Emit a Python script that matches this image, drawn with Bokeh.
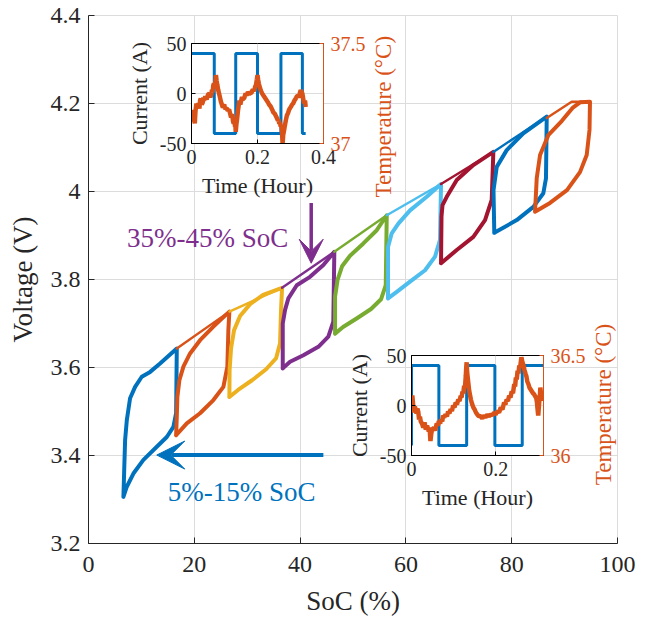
import math
from bokeh.plotting import figure
from bokeh.models import (Range1d, FixedTicker, NumeralTickFormatter, LinearAxis,
                          Arrow, VeeHead, Column, Label)
from bokeh.core.properties import value
from bokeh.embed import file_html
from bokeh.resources import INLINE

FONT = "Liberation Serif"
C_BLUE = "#0072BD"; C_ORANGE = "#D95319"; C_YELLOW = "#EDB120"; C_PURPLE = "#7E2F8E"
C_GREEN = "#77AC30"; C_CYAN = "#4DBEEE"; C_RED = "#A2142F"
AX = "#262626"; GRID = "#dcdcdc"

# ---------------- main data: SoC (%) / Voltage (V) loops ----------------
x_ticks = [0, 20, 40, 60, 80, 100]
y_ticks = [3.2, 3.4, 3.6, 3.8, 4.0, 4.2, 4.4]

loop1_soc = [6.60, 6.73, 6.92, 7.24, 7.86, 8.81, 10.07, 11.65, 13.53, 16.69, 16.56, 16.05, 14.80, 12.91, 10.38, 8.49, 7.24, 6.60]
loop1_v = [3.306, 3.359, 3.435, 3.480, 3.530, 3.556, 3.579, 3.590, 3.609, 3.643, 3.496, 3.465, 3.442, 3.420, 3.390, 3.359, 3.329, 3.306]

loop2_soc = [16.56, 16.69, 16.80, 17.18, 17.94, 19.20, 21.09, 23.61, 26.63, 26.44, 26.25, 25.50, 23.61, 21.09, 18.58, 16.56]
loop2_v = [3.446, 3.488, 3.533, 3.571, 3.602, 3.632, 3.662, 3.693, 3.727, 3.685, 3.602, 3.556, 3.526, 3.496, 3.473, 3.446]
link2_soc = [16.69, 26.63]
link2_v = [3.643, 3.727]

loop3_soc = [26.63, 26.67, 26.95, 27.52, 28.65, 30.54, 33.00, 36.59, 36.40, 36.21, 35.46, 33.57, 30.92, 28.27, 26.63]
loop3_v = [3.533, 3.594, 3.644, 3.685, 3.717, 3.744, 3.765, 3.781, 3.731, 3.655, 3.621, 3.596, 3.571, 3.549, 3.533]
link3_soc = [26.63, 36.59]
link3_v = [3.727, 3.781]

loop4_soc = [36.72, 36.72, 37.16, 37.78, 39.37, 41.88, 44.40, 46.47, 46.28, 45.34, 43.45, 40.62, 38.10, 36.72]
loop4_v = [3.598, 3.700, 3.731, 3.757, 3.787, 3.806, 3.833, 3.863, 3.704, 3.670, 3.647, 3.628, 3.613, 3.598]
link4_soc = [36.59, 46.47]
link4_v = [3.781, 3.863]

loop5_soc = [46.61, 46.61, 47.08, 47.93, 49.44, 51.96, 54.49, 56.38, 56.19, 55.30, 53.41, 50.76, 48.12, 46.61]
loop5_v = [3.677, 3.761, 3.799, 3.830, 3.854, 3.882, 3.912, 3.946, 3.787, 3.755, 3.733, 3.712, 3.692, 3.677]
link5_soc = [46.47, 56.38]
link5_v = [3.863, 3.946]

loop6_soc = [56.62, 56.62, 57.32, 58.57, 60.78, 63.94, 66.64, 66.45, 65.51, 63.62, 60.78, 58.27, 56.62]
loop6_v = [3.757, 3.874, 3.905, 3.927, 3.957, 3.988, 4.017, 3.890, 3.852, 3.821, 3.795, 3.772, 3.757]
link6_soc = [56.38, 66.64]
link6_v = [3.946, 4.017]

loop7_soc = [66.64, 66.73, 66.92, 67.72, 69.61, 72.75, 76.53, 76.22, 74.96, 72.75, 69.61, 66.64]
loop7_v = [3.837, 3.943, 3.969, 3.988, 4.026, 4.060, 4.090, 3.981, 3.935, 3.897, 3.867, 3.837]
link7_soc = [66.64, 76.53]
link7_v = [4.017, 4.090]

loop8_soc = [76.71, 76.56, 77.17, 79.06, 82.20, 86.62, 86.48, 85.98, 84.09, 80.95, 76.71]
loop8_v = [3.906, 4.003, 4.056, 4.094, 4.132, 4.170, 4.030, 3.996, 3.965, 3.935, 3.906]
link8_soc = [76.53, 86.62]
link8_v = [4.090, 4.170]

loop9_soc = [84.41, 84.73, 85.36, 86.92, 89.45, 91.50, 93.00, 94.80, 94.71, 94.18, 92.91, 90.45, 87.24, 84.41]
loop9_v = [3.954, 4.030, 4.083, 4.128, 4.160, 4.190, 4.203, 4.204, 4.140, 4.083, 4.044, 4.003, 3.974, 3.954]
link9_soc = [86.62, 91.34, 94.80]
link9_v = [4.167, 4.204, 4.204]

# ---------------- inset 1 (35%-45% SoC test) ----------------
in1_t_ticks = [0, 0.2, 0.4]
in1_switch_t = [0, 0.069, 0.134, 0.200, 0.271, 0.336, 0.346]
in1_current = [40, -40, 40, -40, 40, -40, -40]
in1_temp_t = [0.000, 0.002, 0.004, 0.006, 0.008, 0.010, 0.012, 0.015, 0.018, 0.021, 0.024, 0.026, 0.028, 0.031,
              0.034, 0.036, 0.038, 0.042, 0.046, 0.050, 0.054, 0.057, 0.060, 0.062, 0.064, 0.066, 0.068, 0.070,
              0.072, 0.073, 0.074, 0.076, 0.078, 0.081, 0.085, 0.089, 0.092, 0.095, 0.099, 0.102, 0.106, 0.110,
              0.114, 0.117, 0.120, 0.122, 0.124, 0.126, 0.128, 0.130, 0.132, 0.133, 0.134, 0.136, 0.138, 0.141,
              0.145, 0.148, 0.150, 0.153, 0.155, 0.160, 0.164, 0.167, 0.171, 0.175, 0.182, 0.186, 0.190, 0.193,
              0.195, 0.198, 0.200, 0.202, 0.204, 0.208, 0.211, 0.214, 0.220, 0.224, 0.228, 0.232, 0.235, 0.240,
              0.245, 0.248, 0.252, 0.255, 0.258, 0.262, 0.264, 0.266, 0.268, 0.270, 0.272, 0.274, 0.276, 0.278,
              0.280, 0.283, 0.286, 0.289, 0.292, 0.296, 0.301, 0.305, 0.308, 0.312, 0.316, 0.319, 0.322, 0.325,
              0.328, 0.331, 0.334, 0.336, 0.339, 0.341, 0.344, 0.346]
in1_temp = [37.150, 37.110, 37.150, 37.167, 37.120, 37.100, 37.160, 37.200, 37.185, 37.200, 37.175, 37.215, 37.225, 37.195,
            37.205, 37.230, 37.215, 37.235, 37.220, 37.245, 37.250, 37.232, 37.245, 37.268, 37.255, 37.290, 37.300, 37.275,
            37.300, 37.320, 37.342, 37.315, 37.295, 37.267, 37.240, 37.210, 37.195, 37.180, 37.195, 37.172, 37.178, 37.165,
            37.170, 37.150, 37.130, 37.145, 37.135, 37.110, 37.100, 37.120, 37.083, 37.100, 37.058, 37.095, 37.120, 37.167,
            37.215, 37.195, 37.210, 37.232, 37.220, 37.228, 37.250, 37.240, 37.258, 37.248, 37.255, 37.270, 37.262, 37.285,
            37.290, 37.320, 37.342, 37.318, 37.300, 37.275, 37.262, 37.250, 37.235, 37.225, 37.215, 37.205, 37.195, 37.185,
            37.168, 37.155, 37.150, 37.140, 37.130, 37.115, 37.120, 37.098, 37.105, 37.085, 37.090, 37.067, 37.000, 37.045,
            37.060, 37.090, 37.117, 37.140, 37.150, 37.170, 37.183, 37.195, 37.200, 37.215, 37.225, 37.235, 37.240, 37.230,
            37.250, 37.267, 37.255, 37.250, 37.220, 37.200, 37.215, 37.183]

# ---------------- inset 2 (5%-15% SoC test) ----------------
in2_t_ticks = [0, 0.2]
in2_switch_t = [0, 0, 0.065, 0.131, 0.198, 0.263, 0.3135]
in2_current = [-40, 40, -40, 40, -40, 40, 40]
in2_temp_t = [0.000, 0.002, 0.004, 0.006, 0.008, 0.010, 0.012, 0.014, 0.016, 0.018, 0.020, 0.022, 0.025, 0.028,
              0.031, 0.034, 0.037, 0.041, 0.043, 0.045, 0.047, 0.049, 0.053, 0.056, 0.060, 0.063, 0.065, 0.068,
              0.070, 0.073, 0.075, 0.078, 0.081, 0.084, 0.087, 0.090, 0.093, 0.096, 0.099, 0.102, 0.105, 0.108,
              0.111, 0.114, 0.117, 0.119, 0.121, 0.123, 0.125, 0.127, 0.129, 0.130, 0.131, 0.132, 0.134, 0.137,
              0.141, 0.144, 0.147, 0.150, 0.153, 0.156, 0.160, 0.164, 0.168, 0.172, 0.176, 0.180, 0.184, 0.188,
              0.192, 0.196, 0.200, 0.204, 0.208, 0.212, 0.216, 0.220, 0.223, 0.226, 0.229, 0.232, 0.235, 0.238,
              0.241, 0.244, 0.246, 0.248, 0.250, 0.252, 0.254, 0.256, 0.258, 0.260, 0.261, 0.263, 0.266, 0.268,
              0.271, 0.273, 0.275, 0.278, 0.280, 0.283, 0.286, 0.289, 0.291, 0.294, 0.296, 0.298, 0.299, 0.301,
              0.303, 0.305, 0.306, 0.308, 0.309, 0.311, 0.312]
in2_temp = [36.240, 36.300, 36.250, 36.215, 36.245, 36.230, 36.210, 36.235, 36.220, 36.180, 36.195, 36.170, 36.160, 36.140,
            36.165, 36.130, 36.150, 36.120, 36.140, 36.072, 36.110, 36.130, 36.139, 36.125, 36.160, 36.150, 36.173, 36.160,
            36.181, 36.170, 36.200, 36.190, 36.206, 36.195, 36.220, 36.210, 36.232, 36.222, 36.250, 36.240, 36.265, 36.255,
            36.280, 36.272, 36.299, 36.290, 36.320, 36.310, 36.349, 36.340, 36.400, 36.440, 36.466, 36.420, 36.380, 36.324,
            36.280, 36.257, 36.240, 36.230, 36.215, 36.206, 36.195, 36.198, 36.185, 36.200, 36.190, 36.205, 36.195, 36.206,
            36.200, 36.215, 36.205, 36.223, 36.215, 36.240, 36.230, 36.265, 36.255, 36.280, 36.272, 36.299, 36.290, 36.320,
            36.312, 36.357, 36.345, 36.390, 36.380, 36.424, 36.410, 36.450, 36.440, 36.475, 36.491, 36.470, 36.450, 36.430,
            36.408, 36.395, 36.370, 36.355, 36.340, 36.330, 36.320, 36.310, 36.307, 36.295, 36.290, 36.265, 36.240, 36.200,
            36.260, 36.300, 36.340, 36.300, 36.280, 36.290, 36.273]

# ================= main figure =================
# (plots stacked in one Column share their left/right borders, so all use 88 / 80)
p = figure(frame_width=529, frame_height=528, x_range=Range1d(0, 100), y_range=Range1d(3.2, 4.4),
           output_backend="svg", toolbar_location=None,
           min_border_left=88, min_border_right=80, min_border_top=15, min_border_bottom=66,
           background_fill_color="white", border_fill_color="white")
p.outline_line_color = GRID
p.xaxis.ticker = FixedTicker(ticks=x_ticks)
p.yaxis.ticker = FixedTicker(ticks=y_ticks)
p.xaxis.formatter = NumeralTickFormatter(format="0")
p.yaxis.formatter = NumeralTickFormatter(format="0.[0]")
p.xaxis.axis_label = "SoC (%)"
p.yaxis.axis_label = "Voltage (V)"
for ax in (p.xaxis, p.yaxis):
    ax.axis_line_color = AX
    ax.major_tick_line_color = AX
    ax.minor_tick_line_color = None
    ax.major_tick_in = 6
    ax.major_tick_out = 0
    ax.major_label_text_font = FONT
    ax.major_label_text_font_size = "24px"
    ax.major_label_text_color = AX
    ax.axis_label_text_font = FONT
    ax.axis_label_text_font_size = "27px"
    ax.axis_label_text_font_style = "normal"
    ax.axis_label_text_color = AX
p.xaxis.major_label_standoff = 13
p.yaxis.major_label_standoff = 8
p.xaxis.axis_label_standoff = 11
p.yaxis.axis_label_standoff = 10
p.grid.grid_line_color = GRID
p.grid.grid_line_width = 1

loops = [(loop1_soc, loop1_v, C_BLUE), (loop2_soc, loop2_v, C_ORANGE), (loop3_soc, loop3_v, C_YELLOW),
         (loop4_soc, loop4_v, C_PURPLE), (loop5_soc, loop5_v, C_GREEN), (loop6_soc, loop6_v, C_CYAN),
         (loop7_soc, loop7_v, C_RED), (loop8_soc, loop8_v, C_BLUE), (loop9_soc, loop9_v, C_ORANGE)]
links = [(link2_soc, link2_v, C_ORANGE), (link3_soc, link3_v, C_YELLOW), (link4_soc, link4_v, C_PURPLE),
         (link5_soc, link5_v, C_GREEN), (link6_soc, link6_v, C_CYAN), (link7_soc, link7_v, C_RED),
         (link8_soc, link8_v, C_BLUE), (link9_soc, link9_v, C_ORANGE)]
for (xs, ys, c), (lx, ly, lc) in zip(loops, [(None, None, None)] + links):
    p.line(xs, ys, line_color=c, line_width=4, line_join="round", line_cap="round")
    if lx is not None:
        p.line(lx, ly, line_color=lc, line_width=2.4, line_cap="round")

p.text(x=[7.3], y=[3.894], text=["35%-45% SoC"], text_font=value(FONT), text_font_size="27px",
       text_color=C_PURPLE, text_align="left", text_baseline="middle")
p.text(x=[15.0], y=[3.316], text=["5%-15% SoC"], text_font=value(FONT), text_font_size="27px",
       text_color=C_BLUE, text_align="left", text_baseline="middle")
p.add_layout(Arrow(end=VeeHead(size=24, fill_color=C_PURPLE, line_color=C_PURPLE),
                   x_start=42.1, y_start=3.974, x_end=42.1, y_end=3.837,
                   line_color=C_PURPLE, line_width=3.5))
p.add_layout(Arrow(end=VeeHead(size=28, fill_color=C_BLUE, line_color=C_BLUE),
                   x_start=44.4, y_start=3.401, x_end=12.9, y_end=3.401,
                   line_color=C_BLUE, line_width=4))

# right-hand (temperature) axis titles of the two insets, reading upward;
# placed on the main canvas, beside each inset's right axis
for lx, ly in ((55.7, 4.170), (97.3, 3.516)):
    p.add_layout(Label(x=lx, y=ly, text="Temperature (°C)", angle=math.pi / 2,
                       text_align="center", text_baseline="middle",
                       text_font=FONT, text_font_size="23px", text_color=C_ORANGE))

IN_LEFT, IN_FRAME_W, IN_RIGHT = 88, 132, 80
IN_TOP, IN_FRAME_H, IN_BOTTOM = 36, 100, 60


def make_inset(t_end, t_ticks, temp_lo, temp_hi, left_px, top_px):
    f = figure(frame_width=IN_FRAME_W, frame_height=IN_FRAME_H, x_range=Range1d(0, t_end), y_range=Range1d(-50, 50),
               output_backend="svg", toolbar_location=None,
               min_border_left=IN_LEFT, min_border_right=IN_RIGHT, min_border_top=IN_TOP, min_border_bottom=IN_BOTTOM,
               background_fill_color="white", border_fill_alpha=0,
               styles={"position": "absolute", "left": f"{left_px}px", "top": f"{top_px}px"})
    f.outline_line_color = "black"
    f.extra_y_ranges = {"temp": Range1d(temp_lo, temp_hi)}
    f.xaxis.ticker = FixedTicker(ticks=t_ticks)
    f.yaxis.ticker = FixedTicker(ticks=[-50, 0, 50])
    f.xaxis.formatter = NumeralTickFormatter(format="0.[0]")
    f.yaxis.formatter = NumeralTickFormatter(format="0")
    f.xaxis.axis_label = "Time (Hour)"
    f.yaxis.axis_label = "Current (A)"
    right = LinearAxis(y_range_name="temp", ticker=FixedTicker(ticks=[temp_lo, temp_hi]),
                       formatter=NumeralTickFormatter(format="0.[0]"))
    f.add_layout(right, "right")
    for ax, col in ((f.xaxis[0], "black"), (f.yaxis[0], "black"), (right, C_ORANGE)):
        ax.axis_line_color = col
        ax.major_tick_line_color = col
        ax.minor_tick_line_color = None
        ax.major_tick_in = 4
        ax.major_tick_out = 0
        ax.major_label_text_font = FONT
        ax.major_label_text_font_size = "20px"
        ax.major_label_text_color = AX if col == "black" else C_ORANGE
        ax.axis_label_text_font = FONT
        ax.axis_label_text_font_size = "22px"
        ax.axis_label_text_font_style = "normal"
        ax.axis_label_text_color = AX
    f.xaxis[0].major_label_standoff = 6
    f.xaxis[0].axis_label_standoff = 6
    f.yaxis[0].major_label_standoff = 5
    f.yaxis[0].axis_label_standoff = 5
    right.major_label_standoff = 7
    f.grid.grid_line_color = GRID
    return f


in1 = make_inset(0.4, in1_t_ticks, 37, 37.5, 103, 7)
in1.step(in1_switch_t, in1_current, mode="after", line_color=C_BLUE, line_width=3)
in1.line(in1_temp_t, in1_temp, y_range_name="temp", line_color=C_ORANGE, line_width=4.5)

in2 = make_inset(0.3135, in2_t_ticks, 36, 36.5, 323, 319)
in2.step(in2_switch_t, in2_current, mode="after", line_color=C_BLUE, line_width=3)
in2.line(in2_temp_t, in2_temp, y_range_name="temp", line_color=C_ORANGE, line_width=4.5)

root = Column(children=[p, in1, in2], styles={"position": "relative"})
open("out.html", "w").write(file_html(root, INLINE))
